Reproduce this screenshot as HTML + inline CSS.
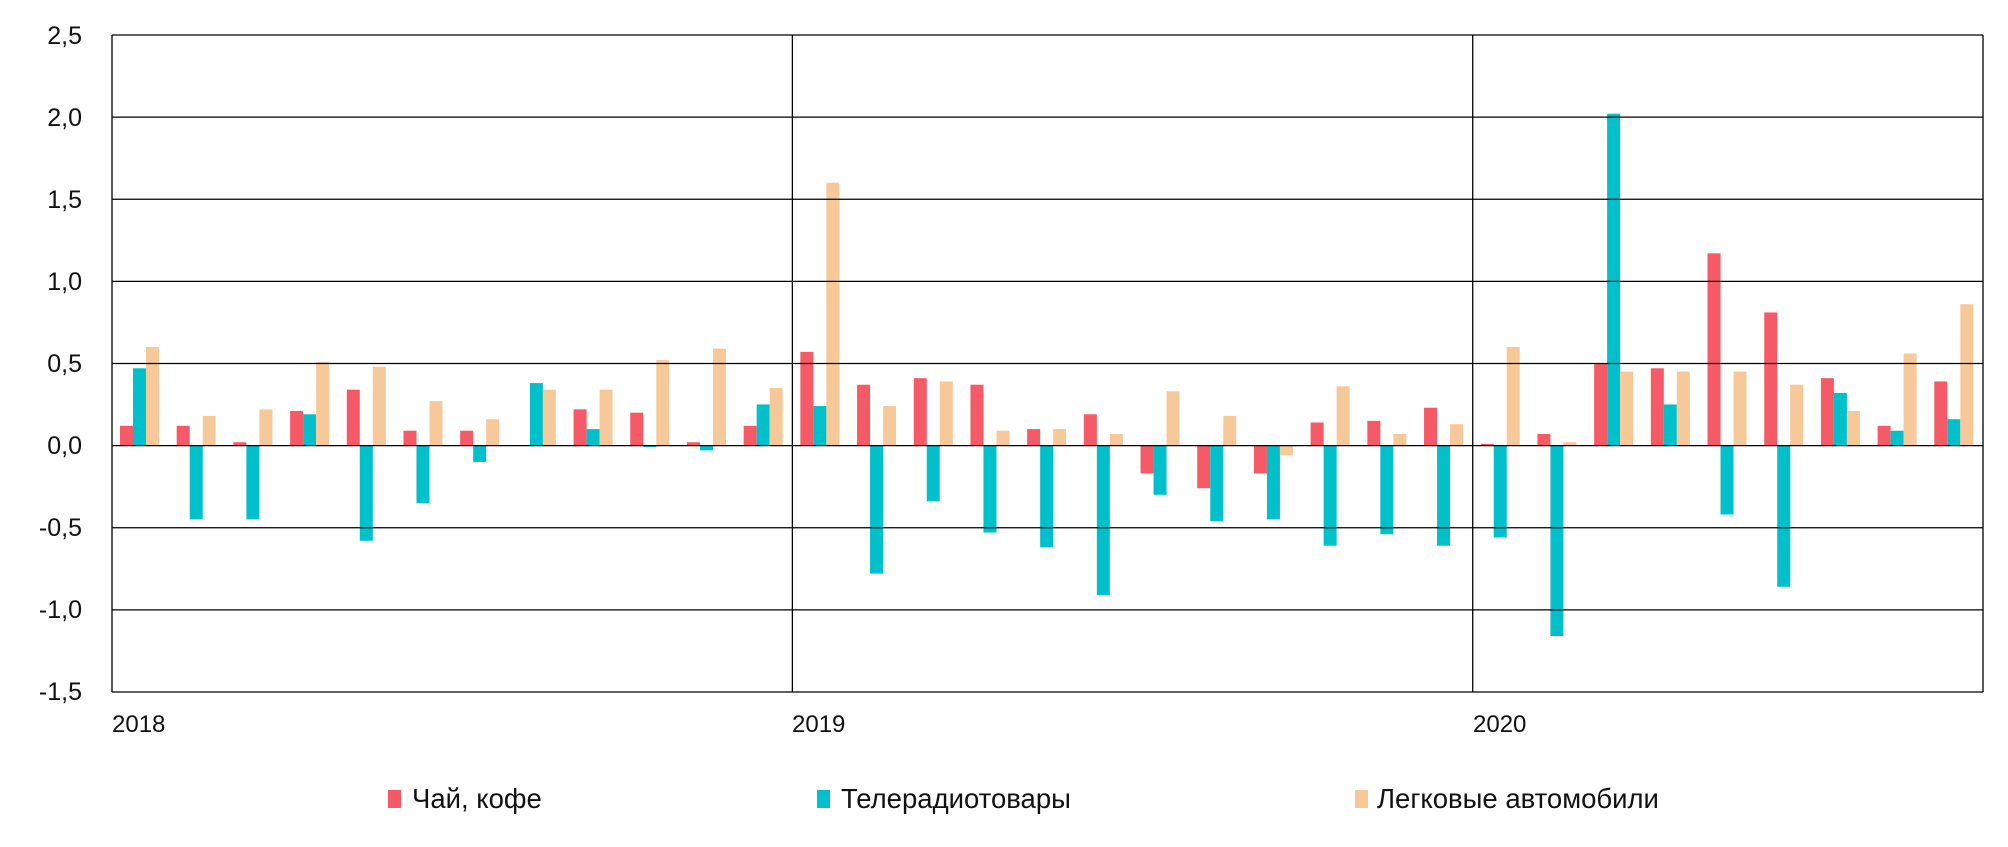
<!DOCTYPE html>
<html><head><meta charset="utf-8">
<style>
html,body{margin:0;padding:0;background:#fff;}
svg{display:block;}
text{font-family:"Liberation Sans",sans-serif;fill:#111;}
</style></head>
<body>
<svg id="c" width="2008" height="847" xmlns="http://www.w3.org/2000/svg">
<g id="bars"></g>
<g id="grid" stroke="#000" stroke-width="1.3" fill="none"></g>
<g font-size="25" text-anchor="end">
<text x="82" y="44">2,5</text>
<text x="82" y="126">2,0</text>
<text x="82" y="208">1,5</text>
<text x="82" y="290">1,0</text>
<text x="82" y="372">0,5</text>
<text x="82" y="454">0,0</text>
<text x="82" y="536">-0,5</text>
<text x="82" y="618">-1,0</text>
<text x="82" y="700">-1,5</text>
</g>
<g font-size="24">
<text x="112" y="732">2018</text>
<text x="792" y="732">2019</text>
<text x="1473" y="732">2020</text>
</g>
<g font-size="27.5">
<rect x="388" y="790" width="13" height="18" fill="#F55A66"/>
<text x="412" y="808">Чай, кофе</text>
<rect x="817" y="790" width="13" height="18" fill="#00C0CC"/>
<text x="841" y="808">Телерадиотовары</text>
<rect x="1355" y="790" width="13" height="18" fill="#F7C999"/>
<text x="1377" y="808">Легковые автомобили</text>
</g>
</svg>
<script>
var d=[[0.12,0.47,0.60],[0.12,-0.45,0.18],[0.02,-0.45,0.22],[0.21,0.19,0.51],[0.34,-0.58,0.48],[0.09,-0.35,0.27],[0.09,-0.10,0.16],[0,0.38,0.34],[0.22,0.10,0.34],[0.20,-0.01,0.52],[0.02,-0.03,0.59],[0.12,0.25,0.35],
[0.57,0.24,1.60],[0.37,-0.78,0.24],[0.41,-0.34,0.39],[0.37,-0.53,0.09],[0.10,-0.62,0.10],[0.19,-0.91,0.07],[-0.17,-0.30,0.33],[-0.26,-0.46,0.18],[-0.17,-0.45,-0.06],[0.14,-0.61,0.36],[0.15,-0.54,0.07],[0.23,-0.61,0.13],
[0.01,-0.56,0.60],[0.07,-1.16,0.02],[0.50,2.02,0.45],[0.47,0.25,0.45],[1.17,-0.42,0.45],[0.81,-0.86,0.37],[0.41,0.32,0.21],[0.12,0.09,0.56],[0.39,0.16,0.86]];
var col=["#F55A66","#00C0CC","#F7C999"];
var ns="http://www.w3.org/2000/svg";
var L=112,R=1983,T=35,B=692,Z=445.5,U=164.25;
var gw=(R-L)/33;
var g=document.getElementById("bars");
d.forEach(function(r,i){r.forEach(function(v,j){
 if(v===0)return;
 var e=document.createElementNS(ns,"rect");
 var x=L+i*gw+8+j*13;
 var y=v>0?Z-v*U:Z; var h=Math.abs(v)*U;
 e.setAttribute("x",x);e.setAttribute("y",y);e.setAttribute("width",13);e.setAttribute("height",h);
 e.setAttribute("fill",col[j]);g.appendChild(e);});});
var gr=document.getElementById("grid");
function ln(x1,y1,x2,y2){var e=document.createElementNS(ns,"line");e.setAttribute("x1",x1);e.setAttribute("y1",y1);e.setAttribute("x2",x2);e.setAttribute("y2",y2);gr.appendChild(e);}
for(var k=0;k<=8;k++){var y=T+k*(B-T)/8;ln(L,y,R,y);}
ln(L,T,L,B);ln(R,T,R,B);ln(L+12*gw,T,L+12*gw,B);ln(L+24*gw,T,L+24*gw,B);
</script>
</body></html>
